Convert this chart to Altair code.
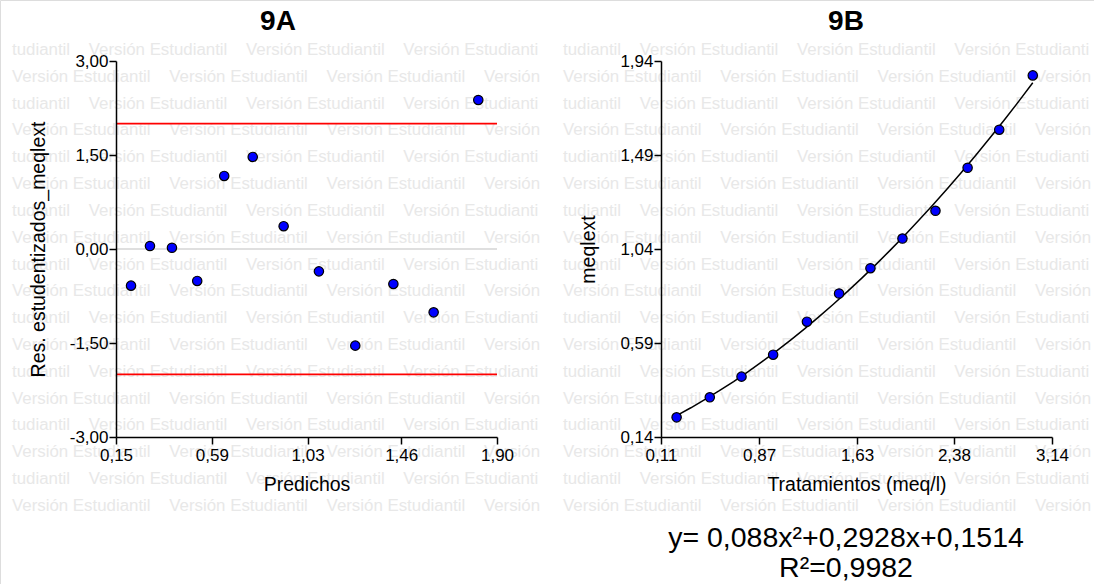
import altair as alt
import pandas as pd

# ---------------- data ----------------
# Panel 9A: studentized residuals vs predicted
predichos = [0.219, 0.306, 0.407, 0.523, 0.647, 0.778, 0.920, 1.082, 1.249, 1.424, 1.609, 1.814]
residuos = [-0.585, 0.048, 0.020, -0.510, 1.166, 1.469, 0.364, -0.357, -1.542, -0.558, -1.011, 2.378]
limites = [2.0, -2.0]
cero = [0.0]

# Panel 9B: meqlext vs treatments, with quadratic fit
tratamientos = [0.231, 0.488, 0.734, 0.979, 1.241, 1.490, 1.733, 1.981, 2.237, 2.486, 2.731, 2.991]
meqlext = [0.234, 0.330, 0.429, 0.534, 0.692, 0.827, 0.948, 1.090, 1.223, 1.429, 1.611, 1.871]

# axis ticks
xa_ticks = [0.15, 0.59, 1.03, 1.46, 1.90]
ya_ticks = [-3.0, -1.5, 0.0, 1.5, 3.0]
xb_ticks = [0.11, 0.87, 1.63, 2.38, 3.14]
yb_ticks = [0.14, 0.59, 1.04, 1.49, 1.94]

ecuacion = "y= 0,088x²+0,2928x+0,1514"
r2 = "R²=0,9982"

NB = "\u00a0" * 4
wm_even = "tudiantil" + NB + "Versión Estudiantil" + NB + "Versión Estudiantil" + NB + "Versión Estudianti"
wm_odd = "Versión Estudiantil" + NB + "Versión Estudiantil" + NB + "Versión Estudiantil" + NB + "Versión"
wm_lines = [wm_even if i % 2 == 0 else wm_odd for i in range(18)]

# ---------------- tables ----------------
dfA = pd.DataFrame({"pred": predichos, "res": residuos})
dfLim = pd.DataFrame({"lim": limites, "x0": [xa_ticks[0]] * 2, "x1": [xa_ticks[-1]] * 2})
dfZero = pd.DataFrame({"lim": cero, "x0": [xa_ticks[0]], "x1": [xa_ticks[-1]]})
dfB = pd.DataFrame({"trat": tratamientos, "meq": meqlext})
one = pd.DataFrame({"k": [0]})

FONT = "Liberation Sans"
W, H = 1094, 584
TOP, BOT = 61, 437
LABEL = "replace(replace(format(datum.value, '.2f'), '.', ','), '\u2212', '-')"


def axis(title, values, orient, offset, tp):
    return alt.Axis(
        title=title, values=values, orient=orient, offset=offset, grid=False,
        labelExpr=LABEL, labelFlush=False, labelOverlap=False, labelBound=False,
        tickSize=7, tickWidth=1.5, tickColor="black",
        domainColor="black", domainWidth=1.5,
        labelPadding=1 if orient == "left" else 3,
        labelFont=FONT, labelFontSize=17, labelColor="black",
        titleFont=FONT, titleFontSize=19.5, titleFontWeight="normal", titleColor="black",
        titlePadding=tp, zindex=1,
    )


# ---------------- panel 9A ----------------
xA = alt.Scale(domain=[xa_ticks[0], xa_ticks[-1]], range=[116, 497], nice=False, zero=False)
yA = alt.Scale(domain=[ya_ticks[0], ya_ticks[-1]], range=[BOT, TOP], nice=False, zero=False)
axXA = axis("Predichos", xa_ticks, "bottom", -(H - BOT), 12)
axYA = axis("Res. estudentizados_meqlext", ya_ticks, "left", -116, 21)

zeroA = alt.Chart(dfZero).mark_rule(color="#d4d4d4", strokeWidth=1.5).encode(
    x=alt.X("x0:Q", scale=xA, axis=axXA), x2="x1:Q",
    y=alt.Y("lim:Q", scale=yA, axis=axYA))
limA = alt.Chart(dfLim).mark_rule(color="#ff0000", strokeWidth=1.6).encode(
    x=alt.X("x0:Q", scale=xA, axis=axXA), x2="x1:Q",
    y=alt.Y("lim:Q", scale=yA, axis=axYA))
ptsA = alt.Chart(dfA).mark_circle(color="#0000ff", stroke="black", strokeWidth=1.2, size=88, opacity=1).encode(
    x=alt.X("pred:Q", scale=xA, axis=axXA),
    y=alt.Y("res:Q", scale=yA, axis=axYA))
panelA = alt.layer(zeroA, limA, ptsA)

# ---------------- panel 9B ----------------
xB = alt.Scale(domain=[xb_ticks[0], xb_ticks[-1]], range=[661, 1052], nice=False, zero=False)
yB = alt.Scale(domain=[yb_ticks[0], yb_ticks[-1]], range=[BOT, TOP], nice=False, zero=False)
axXB = axis("Tratamientos (meq/l)", xb_ticks, "bottom", -(H - BOT), 12)
axYB = axis("meqlext", yb_ticks, "left", -661, 21)

fitB = alt.Chart(dfB).transform_regression("trat", "meq", method="poly", order=2).mark_line(
    color="black", strokeWidth=1.5).encode(
    x=alt.X("trat:Q", scale=xB, axis=axXB),
    y=alt.Y("meq:Q", scale=yB, axis=axYB))
ptsB = alt.Chart(dfB).mark_circle(color="#0000ff", stroke="black", strokeWidth=1.2, size=88, opacity=1).encode(
    x=alt.X("trat:Q", scale=xB, axis=axXB),
    y=alt.Y("meq:Q", scale=yB, axis=axYB))
panelB = alt.layer(fitB, ptsB)

# ---------------- watermark and texts ----------------
def wm(x0):
    return alt.Chart(one).mark_text(
        text=wm_lines, x=x0, y=55, align="left", baseline="alphabetic",
        font=FONT, fontSize=16.85, lineHeight=26.82, color="#e8e8e8")

def label(txt, x0, y0, size, weight="normal"):
    return alt.Chart(one).mark_text(
        text=txt, x=x0, y=y0, align="center", baseline="alphabetic",
        font=FONT, fontSize=size, fontWeight=weight, color="black")

chart = alt.layer(
    wm(12), wm(563),
    panelA, panelB,
    label("9A", 278, 30, 28, "bold"),
    label("9B", 846, 30, 28, "bold"),
    label(ecuacion, 846, 547, 28.5),
    label(r2, 846, 577, 28.5),
).resolve_scale(x="independent", y="independent").resolve_axis(
    x="independent", y="independent"
).properties(
    width=W, height=H, autosize=alt.AutoSizeParams(type="none"), padding=0
).configure_view(stroke=None).configure(background="white")

chart.save("out.html", embed_options={"renderer": "svg", "actions": False})
